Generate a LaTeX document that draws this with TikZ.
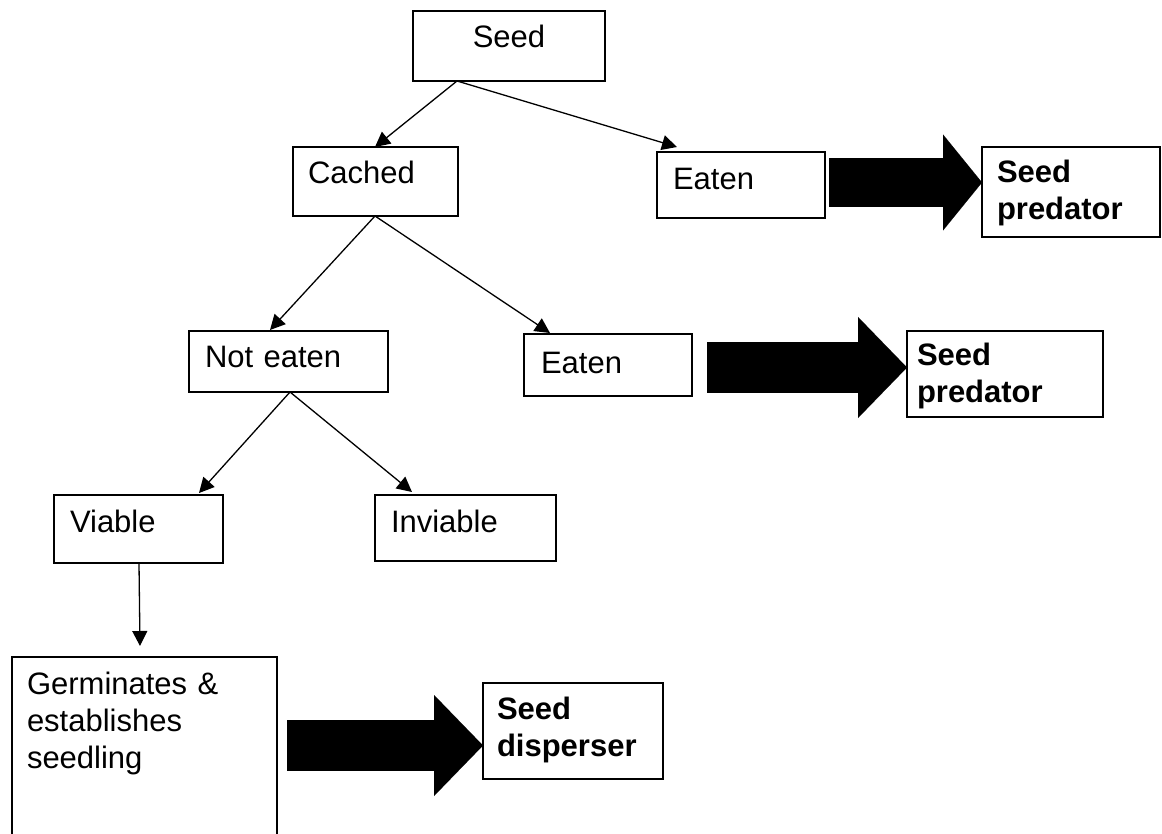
\documentclass[tikz,border=0pt]{standalone}
\usepackage{fontspec}
\setmainfont{Liberation Sans}
\usetikzlibrary{calc,arrows.meta}

\begin{document}
\begin{tikzpicture}[x=0.5pt, y=-0.5pt, -{Triangle[length=7.5pt,width=7.5pt]}, line width=0.65pt,
	font=\fontsize{15.5}{18.5}\selectfont,
	box/.style ={ draw, -, line width=0.9pt, anchor=north west, align=left,
		inner ysep=0pt, outer sep=0pt},
	bigA/.style ={ line width=24.5pt, -{Triangle[length=19.5pt,width=48pt,line width=0.01pt]}},
	bigB/.style ={ line width=25.5pt, -{Triangle[length=24.5pt,width=50.5pt,line width=0.01pt]}}]
	\useasboundingbox (0,0) rectangle (1162,834);
	\node[box, align=center, inner xsep=5pt, text width=86pt, text height=18.5pt, text depth=16.5pt] (seed) at (413,11) {Seed};
	\node[box, inner xsep=7.5pt, text width=67.5pt, text height=18.5pt, text depth=16pt] (cached) at (293,147) {Cached};
	\node[box, inner xsep=8pt, text width=68pt, text height=19pt, text depth=14pt] (eatenA) at (657,152) {Eaten};
	\node[box, inner xsep=7.5pt, text width=74pt, text height=18pt, text depth=27pt] (predA) at (982,147) {\bfseries Seed\\\bfseries predator};
	\node[box, inner xsep=8pt, text width=83.5pt, text height=18pt, text depth=12.5pt] (noteaten) at (189,331) {Not eaten};
	\node[box, inner xsep=8.5pt, text width=67pt, text height=19.5pt, text depth=11.5pt] (eatenB) at (524,334) {Eaten};
	\node[box, inner xsep=5pt, text width=88pt, text height=17pt, text depth=26pt] (predB) at (907,331) {\bfseries Seed\\\bfseries predator};
	\node[box, inner xsep=8pt, text width=68.5pt, text height=18.5pt, text depth=15.5pt] (viable) at (54,495) {Viable};
	\node[box, inner xsep=8pt, text width=74.5pt, text height=18.5pt, text depth=14.5pt] (inviable) at (375,495) {Inviable};
	\node[box, inner xsep=7.5pt, text width=117.5pt, text height=18.5pt, text depth=81.5pt] (germ) at (12,657) {Germinates \&\\establishes\\seedling};
	\node[box, inner xsep=7pt, text width=76pt, text height=18pt, text depth=30pt] (disp) at (483,683) {\bfseries Seed\\\bfseries disperser};

	\draw ($(seed.south west)+(44,0)$) -- ($(cached.north west)+(82,0)$);
	\draw ($(seed.south west)+(44,0)$) -- ($(eatenA.north west)+(20,-5)$);
	\draw ($(cached.south west)+(82,0)$) -- ($(noteaten.north west)+(81,-1)$);
	\draw ($(cached.south west)+(82,0)$) -- ($(eatenB.north west)+(26,-1)$);
	\draw ($(noteaten.south west)+(101,0)$) -- ($(viable.north west)+(145,-2)$);
	\draw ($(noteaten.south west)+(101,0)$) -- ($(inviable.north west)+(37,-3)$);
	\draw ($(viable.south west)+(85,0)$) -- ($(germ.north west)+(128,-11)$);

	\coordinate (a1) at ($(eatenA.north east)+(4,30.5)$);
	\coordinate (a2) at ($(eatenB.north east)+(15,33.5)$);
	\coordinate (a3) at ($(germ.north east)+(10,88.5)$);
	\draw[bigA] (a1) -- (a1 -| predA.west);
	\draw[bigB] (a2) -- (a2 -| predB.west);
	\draw[bigB] (a3) -- (a3 -| disp.west);
\end{tikzpicture}
\end{document}
